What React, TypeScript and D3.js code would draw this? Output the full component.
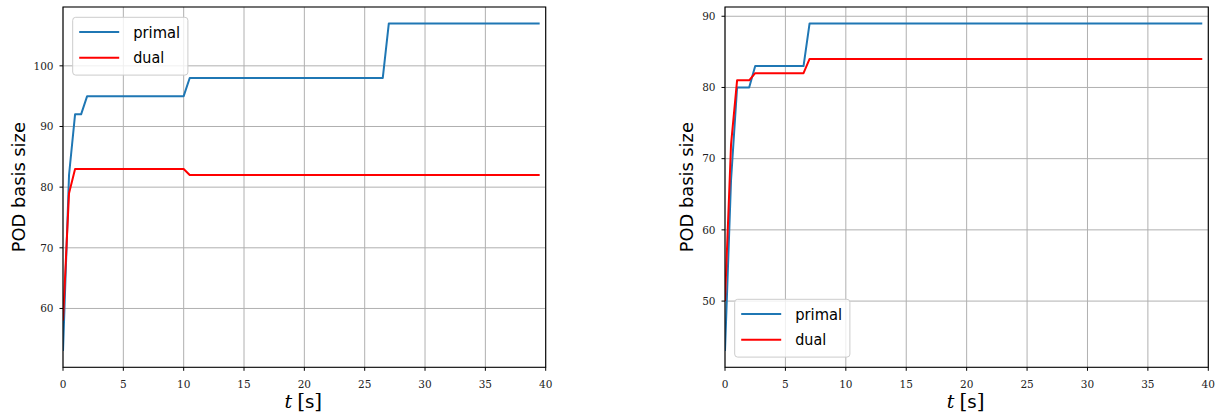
import React from "react";
import * as d3 from "d3";

// ---- data ----
const leftPrimalT = [0, 0.5, 1, 1.5, 2, 10, 10.5, 26.5, 27, 39.5];
const leftPrimalV = [53, 82, 92, 92, 95, 95, 98, 98, 107, 107];
const leftDualT = [0, 0.5, 1, 10, 10.5, 39.5];
const leftDualV = [58, 79, 83, 83, 82, 82];

const rightPrimalT = [0, 0.5, 1, 1.5, 2, 2.5, 6.5, 7, 39.5];
const rightPrimalV = [43, 67, 80, 80, 80, 83, 83, 89, 89];
const rightDualT = [0, 0.5, 1, 2, 2.5, 6.5, 7, 39.5];
const rightDualV = [50, 72, 81, 81, 82, 82, 84, 84];

const xTicks = [0, 5, 10, 15, 20, 25, 30, 35, 40];
const leftYTicks = [60, 70, 80, 90, 100];
const rightYTicks = [50, 60, 70, 80, 90];
const seriesNames = ["primal", "dual"];
const seriesColors = ["#1f77b4", "#ff0000"];

type Panel = {
  x0: number;
  x1: number;
  series: { t: number[]; v: number[] }[];
  yTicks: number[];
  legend: { x: number; y: number };
  ylabelX: number;
};

const TOP = 7;
const BOTTOM = 367.3;

const panels: Panel[] = [
  {
    x0: 63,
    x1: 545.7,
    series: [
      { t: leftPrimalT, v: leftPrimalV },
      { t: leftDualT, v: leftDualV },
    ],
    yTicks: leftYTicks,
    legend: { x: 72.7, y: 17.3 },
    ylabelX: 25,
  },
  {
    x0: 725,
    x1: 1208.3,
    series: [
      { t: rightPrimalT, v: rightPrimalV },
      { t: rightDualT, v: rightDualV },
    ],
    yTicks: rightYTicks,
    legend: { x: 734.7, y: 299.3 },
    ylabelX: 693,
  },
];

const serif = "'DejaVu Serif', serif";
const sans = "'DejaVu Sans', sans-serif";

function PanelView({ p, idx }: { p: Panel; idx: number }) {
  const x = d3.scaleLinear().domain([0, 40]).range([p.x0, p.x1]);
  const allV = p.series.flatMap((s) => s.v);
  const [mn, mx] = d3.extent(allV) as [number, number];
  const pad = (mx - mn) * 0.05;
  const y = d3.scaleLinear().domain([mn - pad, mx + pad]).range([BOTTOM, TOP]);
  const line = d3
    .line<[number, number]>()
    .x((d) => x(d[0]))
    .y((d) => y(d[1]));
  const clipId = `clip${idx}`;
  const cx = (p.x0 + p.x1) / 2;
  const cy = (TOP + BOTTOM) / 2;
  const L = p.legend;
  return (
    <g>
      <defs>
        <clipPath id={clipId}>
          <rect x={p.x0} y={TOP} width={p.x1 - p.x0} height={BOTTOM - TOP} />
        </clipPath>
      </defs>
      {/* grid */}
      {xTicks.map((t) => (
        <line
          key={"gx" + t}
          x1={x(t)}
          x2={x(t)}
          y1={TOP}
          y2={BOTTOM}
          stroke="#b0b0b0"
          strokeWidth={1}
        />
      ))}
      {p.yTicks.map((t) => (
        <line
          key={"gy" + t}
          x1={p.x0}
          x2={p.x1}
          y1={y(t)}
          y2={y(t)}
          stroke="#b0b0b0"
          strokeWidth={1}
        />
      ))}
      {/* series */}
      <g clipPath={`url(#${clipId})`}>
        {p.series.map((s, i) => (
          <path
            key={i}
            d={line(s.t.map((t, j) => [t, s.v[j]] as [number, number])) || ""}
            fill="none"
            stroke={seriesColors[i]}
            strokeWidth={2}
            strokeLinejoin="round"
          />
        ))}
      </g>
      {/* spines */}
      <rect
        x={p.x0}
        y={TOP}
        width={p.x1 - p.x0}
        height={BOTTOM - TOP}
        fill="none"
        stroke="#000"
        strokeWidth={1.1}
      />
      {/* x ticks */}
      {xTicks.map((t) => (
        <g key={"xt" + t}>
          <line x1={x(t)} x2={x(t)} y1={BOTTOM} y2={BOTTOM + 3.5} stroke="#000" strokeWidth={1} />
          <text
            x={x(t)}
            y={387.5}
            textAnchor="middle"
            fontFamily={serif}
            fontSize={10.5}
            fill="#222"
          >
            {t}
          </text>
        </g>
      ))}
      {/* y ticks */}
      {p.yTicks.map((t) => (
        <g key={"yt" + t}>
          <line x1={p.x0 - 3.5} x2={p.x0} y1={y(t)} y2={y(t)} stroke="#000" strokeWidth={1} />
          <text
            x={p.x0 - 9.5}
            y={y(t)}
            dy="0.36em"
            textAnchor="end"
            fontFamily={serif}
            fontSize={10.5}
            fill="#222"
          >
            {t}
          </text>
        </g>
      ))}
      {/* y label */}
      <text
        transform={`translate(${p.ylabelX},${cy}) rotate(-90)`}
        textAnchor="middle"
        fontFamily={sans}
        fontSize={18}
        textLength={130}
        lengthAdjust="spacingAndGlyphs"
        fill="#000"
      >
        POD basis size
      </text>
      {/* x label */}
      <text x={cx - 1} y={408} textAnchor="middle" fill="#000">
        <tspan fontFamily={serif} fontStyle="italic" fontSize={19}>
          t
        </tspan>
        <tspan dx={5} fontFamily={serif} fontSize={20}>
          [
        </tspan>
        <tspan fontFamily={sans} fontSize={18}>
          s
        </tspan>
        <tspan fontFamily={serif} fontSize={20}>
          ]
        </tspan>
      </text>
      {/* legend */}
      <rect
        x={L.x}
        y={L.y}
        width={115.2}
        height={57.8}
        rx={3}
        fill="#fff"
        fillOpacity={0.8}
        stroke="#cccccc"
        strokeWidth={1}
      />
      {seriesNames.map((n, i) => (
        <g key={n}>
          <line
            x1={L.x + 6.5}
            x2={L.x + 46.5}
            y1={L.y + 14.8 + i * 25.6}
            y2={L.y + 14.8 + i * 25.6}
            stroke={seriesColors[i]}
            strokeWidth={2}
          />
          <text
            x={L.x + 60.5}
            y={L.y + 14.8 + i * 25.6}
            dy="0.35em"
            fontFamily={sans}
            fontSize={15.5}
            textLength={i === 0 ? 47 : 31}
            lengthAdjust="spacingAndGlyphs"
            fill="#000"
          >
            {n}
          </text>
        </g>
      ))}
    </g>
  );
}

export default function App() {
  return (
    <svg
      width={1224}
      height={418}
      style={{ position: "absolute", left: 0, top: 0, background: "#fff" }}
    >
      <rect width={1224} height={418} fill="#fff" />
      {panels.map((p, i) => (
        <PanelView key={i} p={p} idx={i} />
      ))}
    </svg>
  );
}
